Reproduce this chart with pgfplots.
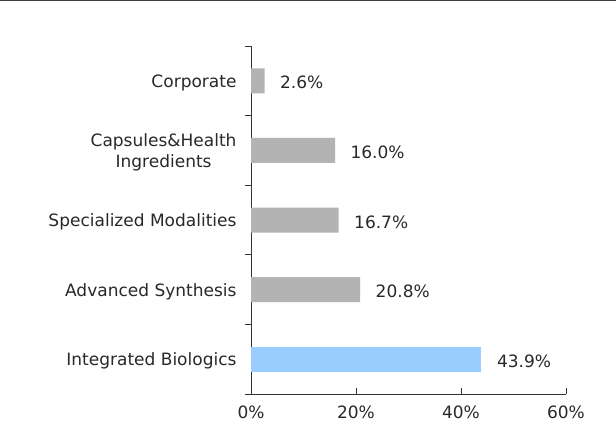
\documentclass[border=0pt]{standalone}
\usepackage{pgfplots}
\pgfplotsset{compat=1.18}
\usepackage{fontspec}
\setmainfont{DejaVu Sans}
\definecolor{bargray}{RGB}{179,179,179}
\definecolor{barblue}{RGB}{153,204,255}
\definecolor{txt}{RGB}{40,40,40}
\begin{document}
\begin{tikzpicture}[x=1bp,y=1bp]
\path[use as bounding box] (0,0) rectangle (616,427);
\draw[black!75, line width=1bp] (0,426) -- (616,426);
\begin{axis}[
  at={(251bp,33bp)}, anchor=south west,
  scale only axis, width=315bp, height=348bp,
  xmin=0, xmax=60, ymin=-0.5, ymax=4.5,
  axis x line*=bottom, axis y line*=left,
  axis line style={black!80, line width=0.9bp},
  every tick/.style={black!80, line width=0.9bp},
  tick align=inside,
  xtick={0,20,40,60},
  xticklabel={\pgfmathprintnumber{\tick}\%},
  ytick={0,1,2,3,4},
  yticklabels={Integrated Biologics, Advanced Synthesis, Specialized Modalities, {Capsules\&Health\\Ingredients}, Corporate},
  major tick length=6bp,
  minor ytick={-0.5,0.5,1.5,2.5,3.5,4.5},
  minor tick length=6bp,
  ytick style={draw=none},
  minor y tick style={draw=black!80, line width=0.9bp},
  yticklabel style={align=center, font=\fontsize{17bp}{21bp}\selectfont, text=txt, xshift=-5bp, yshift=-2bp},
  xticklabel style={font=\fontsize{17bp}{21bp}\selectfont, text=txt, yshift=-8bp},
  /pgf/number format/assume math mode=true,
  xbar, bar width=25bp, bar shift=0pt,
  nodes near coords={\pgfmathprintnumber[fixed,fixed zerofill,precision=1]{\pgfplotspointmeta}\%},
  nodes near coords style={anchor=west, xshift=12bp, yshift=-2bp, font=\fontsize{17bp}{21bp}\selectfont, text=txt},
  clip=false,
]
\addplot[fill=barblue, draw=none] coordinates {(43.9,0)};
\addplot[fill=bargray, draw=none] coordinates {(20.8,1) (16.7,2) (16.0,3) (2.6,4)};
\end{axis}
\end{tikzpicture}
\end{document}
